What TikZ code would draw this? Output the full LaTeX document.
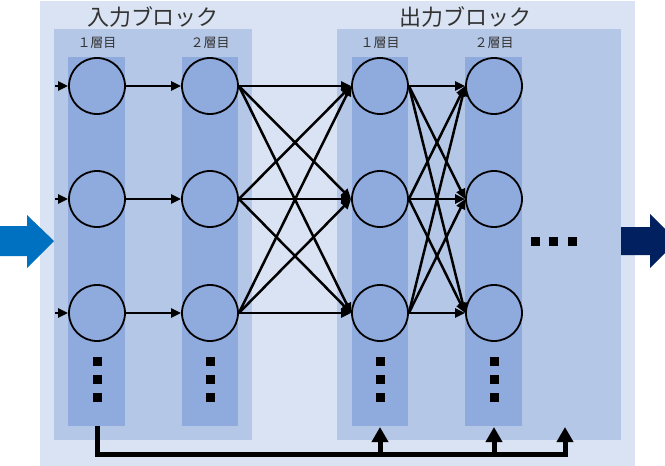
\documentclass[tikz,border=0pt]{standalone}
\usepackage{fontspec}
\setmainfont{Noto Sans CJK JP}
\usetikzlibrary{arrows.meta}
\definecolor{fond}{HTML}{DAE3F3}
\definecolor{bloc}{HTML}{B4C7E7}
\definecolor{couche}{HTML}{8FAADC}
\definecolor{entree}{HTML}{0070C0}
\definecolor{sortie}{HTML}{002060}
\tikzset{
  neurone/.style={circle,draw,line width=1.8pt,fill=couche,minimum size=56pt,inner sep=0pt},
  lien/.style={line width=2.5pt,-{Triangle[length=10pt,width=9pt]}},
  bus/.style={line width=5pt,-{Triangle[length=15pt,width=16pt]}},
  carre/.style={fill=black,minimum size=9pt,inner sep=0pt},
  titre/.style={text=black!80,font=\fontsize{22}{24}\selectfont},
  couchelbl/.style={text=black!80,font=\fontsize{13}{15}\selectfont}
}
\begin{document}
\begin{tikzpicture}[x=1pt,y=-1pt]
		\useasboundingbox (0,0) rectangle (665,466);
		%Fonds
		\fill[fond] (40,1) rectangle (635,466);
		\fill[bloc] (54,29) rectangle (252,440);
		\fill[bloc] (337,29) rectangle (621,440);
		\fill[couche] (68,57) rectangle (125,426);
		\fill[couche] (182,57) rectangle (238,426);
		\fill[couche] (352,57) rectangle (408,426);
		\fill[couche] (465,57) rectangle (522,426);
		%Grandes flèches
		\fill[entree] (0,226) -- (27,226) -- (27,215) -- (54,241) -- (27,268) -- (27,256) -- (0,256) -- cycle;
		\fill[sortie] (621,227) -- (650,227) -- (650,214) -- (677,241) -- (650,268) -- (650,255) -- (621,255) -- cycle;
		%Titres
		\node[titre] (T1) at (153,17) {入力ブロック};
		\node[titre] (T2) at (465,17) {出力ブロック};
		\node[couchelbl] (L1) at (97,43) {１層目};
		\node[couchelbl] (L2) at (210,43) {２層目};
		\node[couchelbl] (L3) at (380,43) {１層目};
		\node[couchelbl] (L4) at (494,43) {２層目};
		%Neurones
		\node[neurone] (I1) at (97,86) {};
		\node[neurone] (I2) at (97,199) {};
		\node[neurone] (I3) at (97,313) {};
		\node[neurone] (J1) at (210,86) {};
		\node[neurone] (J2) at (210,199) {};
		\node[neurone] (J3) at (210,313) {};
		\node[neurone] (O1) at (380,86) {};
		\node[neurone] (O2) at (380,199) {};
		\node[neurone] (O3) at (380,313) {};
		\node[neurone] (P1) at (494,86) {};
		\node[neurone] (P2) at (494,199) {};
		\node[neurone] (P3) at (494,313) {};
		%Points de suspension
		\node[carre] (D11) at (97,361) {};
		\node[carre] (D12) at (97,379) {};
		\node[carre] (D13) at (97,397) {};
		\node[carre] (D21) at (210,361) {};
		\node[carre] (D22) at (210,379) {};
		\node[carre] (D23) at (210,397) {};
		\node[carre] (D31) at (380,361) {};
		\node[carre] (D32) at (380,379) {};
		\node[carre] (D33) at (380,397) {};
		\node[carre] (D41) at (494,361) {};
		\node[carre] (D42) at (494,379) {};
		\node[carre] (D43) at (494,397) {};
		\node[carre] (H1) at (535.5,241.5) {};
		\node[carre] (H2) at (553,241.5) {};
		\node[carre] (H3) at (572,241.5) {};
		%Entrées
		\coordinate (E1) at (55,86);
		\coordinate (E2) at (55,199);
		\coordinate (E3) at (55,313);
		\draw[lien] (E1) -- (I1.west);
		\draw[lien] (E2) -- (I2.west);
		\draw[lien] (E3) -- (I3.west);
		%Arêtes du bloc d'entrée
		\draw[lien] (I1.east) -- (J1.west);
		\draw[lien] (I2.east) -- (J2.west);
		\draw[lien] (I3.east) -- (J3.west);
		%Arêtes entre les blocs
		\draw[lien] (J1.east) -- (O1.west);
		\draw[lien] (J1.east) -- (O2.west);
		\draw[lien] (J1.east) -- (O3.west);
		\draw[lien] (J2.east) -- (O1.west);
		\draw[lien] (J2.east) -- (O2.west);
		\draw[lien] (J2.east) -- (O3.west);
		\draw[lien] (J3.east) -- (O1.west);
		\draw[lien] (J3.east) -- (O2.west);
		\draw[lien] (J3.east) -- (O3.west);
		%Arêtes du bloc de sortie
		\draw[lien] (O1.east) -- (P1.west);
		\draw[lien] (O1.east) -- (P2.west);
		\draw[lien] (O1.east) -- (P3.west);
		\draw[lien] (O2.east) -- (P1.west);
		\draw[lien] (O2.east) -- (P2.west);
		\draw[lien] (O2.east) -- (P3.west);
		\draw[lien] (O3.east) -- (P1.west);
		\draw[lien] (O3.east) -- (P2.west);
		\draw[lien] (O3.east) -- (P3.west);
		%Connexion résiduelle
		\coordinate (B0) at (97,426);
		\coordinate (B1) at (380,454);
		\coordinate (B2) at (494,454);
		\coordinate (B3) at (565,454);
		\coordinate (C1) at (380,427);
		\coordinate (C2) at (494,427);
		\coordinate (C3) at (565,427);
		\draw[bus] (B0) |- (B3) -- (C3);
		\draw[bus] (B1) -- (C1);
		\draw[bus] (B2) -- (C2);
	\end{tikzpicture}
\end{document}
